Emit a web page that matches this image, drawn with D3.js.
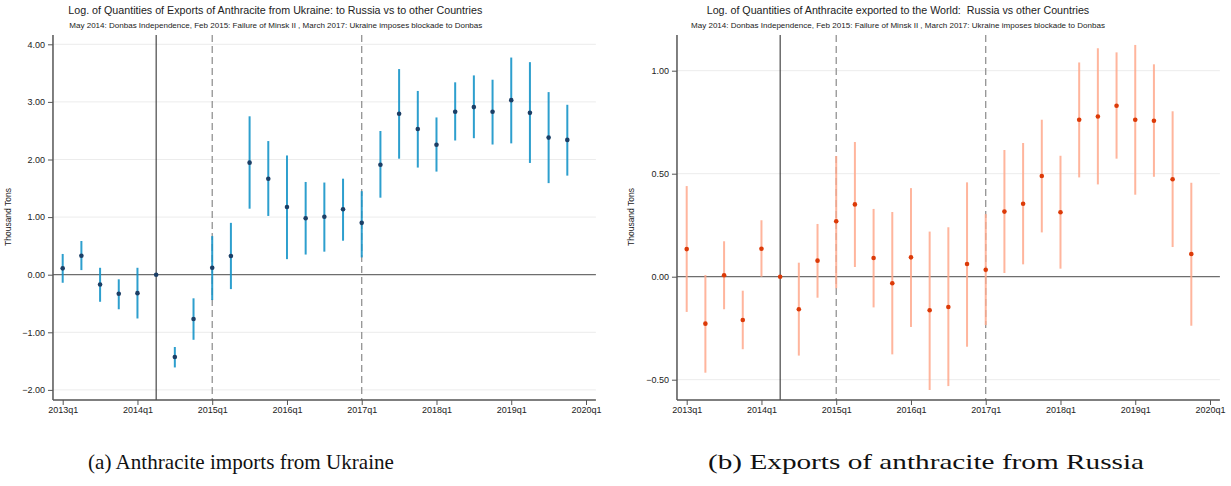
<!DOCTYPE html>
<html><head><meta charset="utf-8">
<script src="https://cdn.jsdelivr.net/npm/d3@7"></script>
<style>body{margin:0;background:#fff}svg{display:block}</style>
</head><body>
<script>
const quarterTicks = ["2013q1","2014q1","2015q1","2016q1","2017q1","2018q1","2019q1","2020q1"];
// index 0 = 2013q1, one step per quarter
const ukrEst = [0.11,0.33,-0.17,-0.33,-0.32,0,-1.43,-0.77,0.12,0.325,1.945,1.667,1.175,0.98,1.007,1.135,0.90,1.91,2.795,2.53,2.257,2.83,2.91,2.83,3.03,2.81,2.38,2.34];
const ukrLo  = [-0.14,0.08,-0.47,-0.60,-0.76,0,-1.61,-1.13,-0.44,-0.25,1.146,1.02,0.27,0.35,0.40,0.59,0.30,1.337,2.014,1.86,1.79,2.33,2.37,2.26,2.28,1.94,1.59,1.72];
const ukrHi  = [0.36,0.585,0.12,-0.08,0.12,0,-1.255,-0.41,0.67,0.90,2.75,2.32,2.07,1.61,1.60,1.667,1.45,2.495,3.57,3.19,2.73,3.34,3.46,3.385,3.77,3.69,3.17,2.95];
const rusEst = [0.134,-0.228,0.007,-0.21,0.136,0,-0.158,0.078,0.269,0.351,0.091,-0.032,0.094,-0.163,-0.147,0.062,0.034,0.316,0.354,0.489,0.313,0.762,0.778,0.83,0.762,0.757,0.473,0.11];
const rusLo  = [-0.171,-0.466,-0.158,-0.352,0.0,0,-0.383,-0.102,-0.056,0.047,-0.149,-0.377,-0.244,-0.55,-0.531,-0.34,-0.235,0.018,0.06,0.215,0.039,0.482,0.448,0.573,0.398,0.485,0.144,-0.238];
const rusHi  = [0.44,0.008,0.172,-0.068,0.274,0,0.068,0.256,0.586,0.654,0.329,0.314,0.43,0.219,0.24,0.458,0.304,0.615,0.649,0.762,0.587,1.04,1.109,1.089,1.125,1.031,0.803,0.456];
const ukrYTicks = [-2,-1,0,1,2,3,4];
const rusYTicks = [-0.5,0,0.5,1];
const eventSolid = [5];      // 2014q2
const eventDashed = [8, 16]; // 2015q1, 2017q1
const subtitle = "May 2014: Donbas Independence, Feb 2015: Failure of Minsk II , March 2017: Ukraine imposes blockade to Donbas";

const W = 1231, H = 486;
const svg = d3.select("body").append("svg").attr("width", W).attr("height", H)
  .style("font-family", "'Liberation Sans', Arial, sans-serif");

function panel(cfg) {
  const g = svg.append("g");
  const x = d3.scaleLinear().domain([0, 28]).range([cfg.x0, cfg.x0 + 523.3]);
  const left = x(-0.52), right = x(28.53);
  const y = d3.scaleLinear().domain(cfg.yDom).range([cfg.yZero, cfg.yZero - cfg.unit * (cfg.yDom[1] - cfg.yDom[0])]);
  const top = 35, bottom = 400;
  // gridlines
  g.selectAll(".grid").data(cfg.yTicks.filter(d => d !== 0)).join("line")
    .attr("x1", left).attr("x2", right).attr("y1", d => y(d)).attr("y2", d => y(d))
    .attr("stroke", "#ececec").attr("stroke-width", 1);
  // zero line
  g.append("line").attr("x1", left).attr("x2", right).attr("y1", y(0)).attr("y2", y(0))
    .attr("stroke", "#6e6e6e").attr("stroke-width", 1.2);
  // event lines
  g.selectAll(".ev").data(eventSolid).join("line")
    .attr("x1", d => x(d)).attr("x2", d => x(d)).attr("y1", top).attr("y2", bottom)
    .attr("stroke", "#222").attr("stroke-width", 1);
  g.selectAll(".evd").data(eventDashed).join("line")
    .attr("x1", d => x(d)).attr("x2", d => x(d)).attr("y1", top).attr("y2", bottom)
    .attr("stroke", "#8a8a8a").attr("stroke-width", 1.2).attr("stroke-dasharray", "7,4");
  // CIs
  const idx = d3.range(cfg.est.length).filter(i => cfg.lo[i] !== cfg.hi[i]);
  g.selectAll(".ci").data(idx).join("line")
    .attr("x1", i => x(i)).attr("x2", i => x(i))
    .attr("y1", i => y(cfg.lo[i])).attr("y2", i => y(cfg.hi[i]))
    .attr("stroke", cfg.ciColor).attr("stroke-width", 2).attr("opacity", cfg.ciOpacity);
  // dots
  g.selectAll(".dot").data(cfg.est).join("circle")
    .attr("cx", (d, i) => x(i)).attr("cy", d => y(d)).attr("r", 2.3)
    .attr("fill", cfg.dotColor);
  // axes
  const ya = d3.axisLeft(y).tickValues(cfg.yTicks).tickFormat(d3.format(".2f")).tickSize(5).tickPadding(3);
  const yg = g.append("g").attr("transform", `translate(${left},0)`).call(ya);
  yg.select(".domain").attr("d", `M0,${top}V${bottom}`);
  const xa = d3.axisBottom(x).tickValues(d3.range(0, 29, 4)).tickFormat((d, i) => quarterTicks[i]).tickSize(5).tickPadding(2);
  const xg = g.append("g").attr("transform", `translate(0,${bottom})`).call(xa);
  xg.select(".domain").attr("d", `M${left},0H${right}`);
  [yg, xg].forEach(a => {
    a.selectAll("text").attr("font-size", 9).attr("fill", "#222").style("font-family", "'Liberation Sans', Arial, sans-serif");
    a.selectAll("line").attr("stroke", "#555");
    a.select(".domain").attr("stroke", "#555").attr("stroke-width", 1.5);
  });
  // y label
  g.append("text").attr("transform", `translate(${cfg.labelX},217) rotate(-90)`)
    .attr("text-anchor", "middle").attr("font-size", 8.5).attr("fill", "#222").text("Thousand Tons");
  // titles
  g.append("text").attr("x", cfg.titleX0).attr("y", 14)
    .attr("textLength", cfg.titleLen).attr("lengthAdjust", "spacingAndGlyphs")
    .attr("xml:space", "preserve")
    .attr("font-size", 11).attr("fill", "#222").text(cfg.title);
  g.append("text").attr("x", cfg.subX0).attr("y", 28)
    .attr("textLength", cfg.subLen).attr("lengthAdjust", "spacingAndGlyphs")
    .attr("font-size", 8).attr("fill", "#222").text(subtitle);
  // caption
  g.append("text").attr("x", cfg.capX0).attr("y", 469)
    .attr("textLength", cfg.capLen).attr("lengthAdjust", "spacingAndGlyphs")
    .attr("font-size", 21).attr("fill", "#111").style("font-family", "'Liberation Serif', 'DejaVu Serif', serif")
    .text(cfg.caption);
}

panel({x0: 62.7, yZero: 274.7, unit: 57.6, yDom: [0, 1], yTicks: ukrYTicks,
  est: ukrEst, lo: ukrLo, hi: ukrHi, ciColor: "#1795c9", ciOpacity: 0.9, dotColor: "#1c3f66",
  labelX: 11,
  titleX0: 68.3, titleLen: 414, subX0: 69.3, subLen: 413,
  title: "Log. of Quantities of Exports of Anthracite from Ukraine: to Russia vs to other Countries",
  capX0: 88, capLen: 306, caption: "(a) Anthracite imports from Ukraine"});
panel({x0: 686.7, yZero: 276.7, unit: 206, yDom: [0, 1], yTicks: rusYTicks,
  est: rusEst, lo: rusLo, hi: rusHi, ciColor: "#ffa98c", ciOpacity: 0.85, dotColor: "#dc3a08",
  labelX: 634,
  titleX0: 706.7, titleLen: 382.5, subX0: 691, subLen: 414,
  title: "Log. of Quantities of Anthracite exported to the World:\u00a0 Russia vs other Countries",
  capX0: 708, capLen: 436, caption: "(b) Exports of anthracite from Russia"});
</script>
</body></html>
